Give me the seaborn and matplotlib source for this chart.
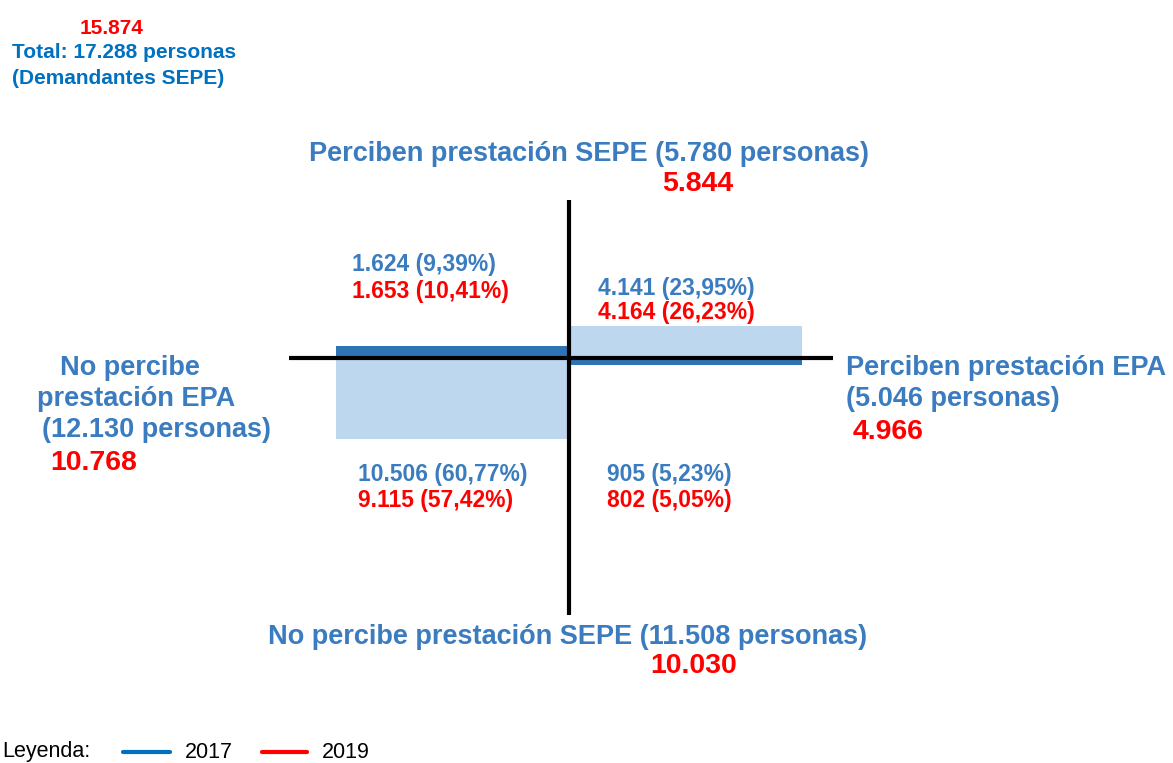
import matplotlib
matplotlib.use("Agg")
import matplotlib.pyplot as plt
from matplotlib.lines import Line2D
import seaborn as sns
import pandas as pd

# ---------------- data ----------------
cuadrantes = ["SEPE sí / EPA no", "SEPE sí / EPA sí", "SEPE no / EPA no", "SEPE no / EPA sí"]
val_2017 = [1624, 4141, 10506, 905]
val_2019 = [1653, 4164, 9115, 802]
total_2017 = 17288
total_2019 = 15874
sepe_si = [5780, 5844]      # 2017, 2019
sepe_no = [11508, 10030]
epa_si = [5046, 4966]
epa_no = [12130, 10768]
legend_years = ["2017", "2019"]

# ---------------- style ----------------
sns.set_theme(style="white")
plt.rcParams["font.family"] = ["Liberation Sans", "DejaVu Sans"]

W, H = 1173, 763
fig = plt.figure(figsize=(W / 100, H / 100), dpi=100)
ax = fig.add_axes([0, 0, 1, 1])

DARK = "#2E74B5"
LIGHT = "#BDD7EE"
TXT_BLUE = "#3A7CBF"
TOT_BLUE = "#0070C0"
RED = "#FF0000"

# geometry (pixels) -> data scales
cx, cy = 569, 358          # centre of the cross in pixels
px_x = 233.0               # pixels per x unit (bar width)
px_y = 1 / 130.0           # pixels per person
ax.set_xlim(-cx / px_x, (W - cx) / px_x)
ax.set_ylim(-(H - cy) / px_y, cy / px_y)

side = [-0.5, 0.5, -0.5, 0.5]
sign = [1, 1, -1, -1]
tono = ["oscuro", "claro", "claro", "oscuro"]
df = pd.DataFrame({
    "cuadrante": cuadrantes,
    "x": side,
    "valor": [s * v for s, v in zip(sign, val_2017)],
    "tono": tono,
})
sns.barplot(data=df, x="x", y="valor", hue="tono", native_scale=True,
            dodge=False, width=1.0, palette={"oscuro": DARK, "claro": LIGHT},
            saturation=1, errorbar=None, legend=False, ax=ax, linewidth=0, zorder=1)

# cross lines
ax.plot([(289 - cx) / px_x, (833 - cx) / px_x], [0, 0], color="black", lw=3.0,
        solid_capstyle="butt", zorder=3)
ax.plot([0, 0], [(cy - 200) / px_y, -(615 - cy) / px_y], color="black", lw=3.0,
        solid_capstyle="butt", zorder=3)
ax.set_axis_off()


def fmt(v):
    return f"{v:,}".replace(",", ".")


def pct(v, t):
    return f"{100 * v / t:.2f}".replace(".", ",")


def T(x, y, s, color, size, weight="bold", ha="left"):
    fig.text(x / W, 1 - y / H, s, color=color, fontsize=size, fontweight=weight,
             ha=ha, va="center")


TITLE = 19.5
BIG = 20.5
Q = 16.5

# top-left totals
T(80, 28, fmt(total_2019), RED, 15)
T(12, 53, f"Total: {fmt(total_2017)} personas", TOT_BLUE, 15)
T(12, 78, "(Demandantes SEPE)", TOT_BLUE, 15)

# axis titles
T(589, 154, f"Perciben prestación SEPE ({fmt(sepe_si[0])} personas)", TXT_BLUE, TITLE, ha="center")
T(698, 184, fmt(sepe_si[1]), RED, BIG, ha="center")
T(568, 637, f"No percibe prestación SEPE ({fmt(sepe_no[0])} personas)", TXT_BLUE, TITLE, ha="center")
T(694, 666, fmt(sepe_no[1]), RED, BIG, ha="center")

T(60, 368, "No percibe", TXT_BLUE, TITLE)
T(37, 399, "prestación EPA", TXT_BLUE, TITLE)
T(42, 430, f"({fmt(epa_no[0])} personas)", TXT_BLUE, TITLE)
T(50, 463, fmt(epa_no[1]), RED, BIG)

T(846, 368, "Perciben prestación EPA", TXT_BLUE, TITLE)
T(846, 399, f"({fmt(epa_si[0])} personas)", TXT_BLUE, TITLE)
T(853, 432, fmt(epa_si[1]), RED, BIG)

# quadrant labels
qpos = [(352, 265, 291), (598, 288, 313), (358, 475, 501), (607, 475, 500)]
for (x, y1, y2), v17, v19 in zip(qpos, val_2017, val_2019):
    T(x, y1, f"{fmt(v17)} ({pct(v17, total_2017)}%)", TXT_BLUE, Q)
    T(x, y2, f"{fmt(v19)} ({pct(v19, total_2019)}%)", RED, Q)

# legend
T(2, 752, "Leyenda:", "black", 15.5, weight="normal")
fig.add_artist(Line2D([123 / W, 170 / W], [1 - 752 / H] * 2, color=TOT_BLUE, lw=3,
                      transform=fig.transFigure))
T(185, 752, legend_years[0], "black", 15.5, weight="normal")
fig.add_artist(Line2D([262 / W, 307 / W], [1 - 752 / H] * 2, color=RED, lw=3,
                      transform=fig.transFigure))
T(322, 752, legend_years[1], "black", 15.5, weight="normal")

fig.savefig("out.png", dpi=100)
